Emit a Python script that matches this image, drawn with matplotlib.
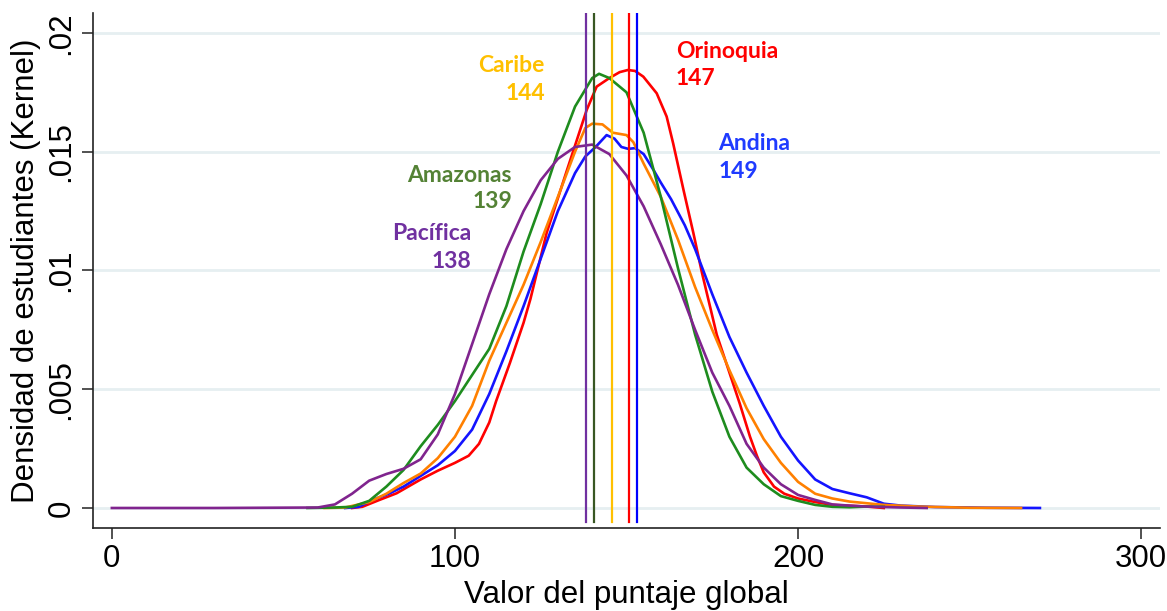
import numpy as np
import matplotlib.pyplot as plt

# densidad kernel por region
pac_x = [0, 30, 60, 65, 70, 75, 80, 85, 90, 95, 100, 105, 110, 115, 120, 125, 130, 135, 140, 145,
         150, 155, 160, 165, 170, 175, 180, 185, 190, 195, 200, 205, 210, 215, 220, 230, 237.5]
pac_y = [0, 0, 0.00002, 0.00015, 0.0006, 0.00115, 0.00143, 0.00165, 0.00205, 0.0031, 0.0048, 0.0069,
         0.0090, 0.0109, 0.0125, 0.0138, 0.0147, 0.0152, 0.0153, 0.0149, 0.0140, 0.0127, 0.0111, 0.0094,
         0.0075, 0.0057, 0.0043, 0.0027, 0.0017, 0.0010, 0.00055, 0.00034, 0.00015, 0.0001, 0.00006,
         0.00002, 0]

ama_x = [57, 65, 70, 75, 80, 85, 90, 95, 100, 105, 110, 115, 120, 125, 130, 135, 140, 142, 145, 150,
         155, 160, 165, 170, 175, 180, 185, 190, 195, 200, 205, 210, 215, 220, 225]
ama_y = [0, 0.00002, 0.00005, 0.0003, 0.0009, 0.0016, 0.0026, 0.0035, 0.0045, 0.0056, 0.0067, 0.0085,
         0.0108, 0.0128, 0.0150, 0.0169, 0.0181, 0.01828, 0.0181, 0.0175, 0.0158, 0.0131, 0.0101, 0.0073,
         0.0049, 0.0030, 0.0017, 0.0010, 0.0005, 0.0003, 0.00013, 0.00005, 0.00003, 0.00006, 0.00005]

car_x = [62, 68, 75, 80, 85, 90, 95, 100, 105, 110, 115, 120, 125, 130, 135, 138, 140, 143, 146, 150,
         152, 155, 160, 165, 170, 175, 180, 185, 190, 195, 200, 205, 210, 215, 220, 225, 235, 250, 265]
car_y = [0, 0.00002, 0.00025, 0.0006, 0.00105, 0.00145, 0.0021, 0.0030, 0.0043, 0.0062, 0.0078, 0.0094,
         0.0112, 0.0131, 0.0150, 0.0160, 0.01618, 0.01615, 0.0158, 0.0157, 0.0154, 0.0145, 0.0131, 0.0113,
         0.0093, 0.0075, 0.0058, 0.0042, 0.0029, 0.0019, 0.0011, 0.0006, 0.0004, 0.00027, 0.0002, 0.00013,
         0.00006, 0.00001, 0]

and_x = [68, 72, 76, 81, 85, 90, 95, 100, 105, 110, 115, 120, 125, 130, 135, 138, 141, 144.2, 146.5,
         148.5, 150.5, 152.5, 155, 158, 160, 163, 167, 170, 175, 180, 185, 190, 195, 200, 205, 210, 215,
         220, 225, 230, 240, 255, 270.5]
and_y = [0, 0.00005, 0.00034, 0.00062, 0.0009, 0.00135, 0.0018, 0.0024, 0.0033, 0.0048, 0.0066, 0.0085,
         0.0105, 0.0125, 0.0141, 0.0148, 0.0152, 0.0157, 0.01555, 0.0152, 0.01512, 0.01515, 0.0149, 0.0142,
         0.0137, 0.0130, 0.0119, 0.0109, 0.0090, 0.0072, 0.0057, 0.0043, 0.0030, 0.0020, 0.0012, 0.0008,
         0.00062, 0.00045, 0.00018, 0.0001, 0.00004, 0.00001, 0]

ori_x = [70, 73, 78, 83, 90, 95, 100, 104, 107, 110, 112, 114, 116, 120, 122, 126.7, 132.6, 138.4, 141.3,
         145, 148, 150.4, 152.5, 154.9, 158.8, 161.7, 163.6, 166.6, 169.5, 172, 176.3, 180, 183, 186, 188,
         190, 193, 196, 200, 205, 210, 220, 225]
ori_y = [0, 0.00005, 0.00034, 0.00062, 0.0012, 0.00157, 0.0019, 0.0022, 0.0027, 0.0036, 0.0045, 0.0053,
         0.0061, 0.0078, 0.0088, 0.01157, 0.0142, 0.01676, 0.01774, 0.0181, 0.01835, 0.01844, 0.0184,
         0.01816, 0.01746, 0.01648, 0.01535, 0.0134, 0.01157, 0.0099, 0.0073, 0.0057, 0.0044, 0.0030,
         0.0022, 0.0015, 0.0009, 0.0006, 0.0004, 0.00025, 0.00013, 0.00006, 0]

# lineas verticales (promedios) y etiquetas
regiones = ['Pacífica', 'Amazonas', 'Caribe', 'Orinoquia', 'Andina']
etiquetas = ['138', '139', '144', '147', '149']
vlineas = [138.2, 140.6, 145.9, 150.8, 153.1]

col_vline = ['#7030A0', '#385723', '#FFC000', '#FF0000', '#0000FF']
col_text = ['#7030A0', '#548235', '#FFC000', '#FF0000', '#1F3BFF']

fig = plt.figure(figsize=(11.67, 6.11), dpi=100)
ax = fig.add_axes([93 / 1167, 1 - 527.7 / 611, (1160 - 93) / 1167, (527.7 - 13) / 611])

ax.grid(axis='y', color='#E6EFF1', lw=2, zorder=0)
ax.set_axisbelow(True)

lw = 1.9
ax.plot(ori_x, ori_y, color='#FF0000', lw=lw, zorder=2, solid_joinstyle='round')
ax.plot(and_x, and_y, color='#1414FF', lw=lw, zorder=2, solid_joinstyle='round')
ax.plot(car_x, car_y, color='#FF8000', lw=lw, zorder=2, solid_joinstyle='round')
ax.plot(ama_x, ama_y, color='#1E8C1E', lw=lw, zorder=2, solid_joinstyle='round')
ax.plot(pac_x, pac_y, color='#80248E', lw=lw, zorder=2, solid_joinstyle='round')

for v, c in zip(vlineas, col_vline):
    ax.plot([v, v], [-0.0006, 0.0208], color=c, lw=1.6, zorder=3)

fnt = dict(family='Lato', fontweight='bold', fontsize=16.5)
# (x, y de linea base, alineacion)
pos = [(104.7, 0.01128, 0.01011, 'right'),
       (116.6, 0.01374, 0.01263, 'right'),
       (126.2, 0.01837, 0.01718, 'right'),
       (164.4, 0.018935, 0.01781, 'left'),
       (176.7, 0.01507, 0.01388, 'left')]
for i in range(5):
    x, y1, y2, ha = pos[i]
    ax.text(x, y1, regiones[i], color=col_text[i], ha=ha, va='baseline', **fnt)
    ax.text(x, y2, etiquetas[i], color=col_text[i], ha=ha, va='baseline', **fnt)

ax.set_xlim(-5.5, 305.5)
ax.set_ylim(-0.00083, 0.02084)
ax.set_xticks([0, 100, 200, 300])
ax.set_yticks([0, 0.005, 0.01, 0.015, 0.02])
ax.set_yticklabels(['0', '.005', '.01', '.015', '.02'], rotation=90, va='center')

for s in ['top', 'right']:
    ax.spines[s].set_visible(False)
for s in ['left', 'bottom']:
    ax.spines[s].set_linewidth(1.2)
    ax.spines[s].set_color('#222222')

tf = 'Liberation Sans'
ax.tick_params(axis='both', direction='out', length=8, width=1.1, color='#222222',
               labelsize=22.5, pad=4)
for lab in ax.get_xticklabels() + ax.get_yticklabels():
    lab.set_family(tf)

ax.set_xlabel('Valor del puntaje global', family=tf, fontsize=22.5, labelpad=4)
ax.set_ylabel('Densidad de estudiantes (Kernel)', family=tf, fontsize=22.5, labelpad=4)

fig.savefig('out.png', dpi=100)
